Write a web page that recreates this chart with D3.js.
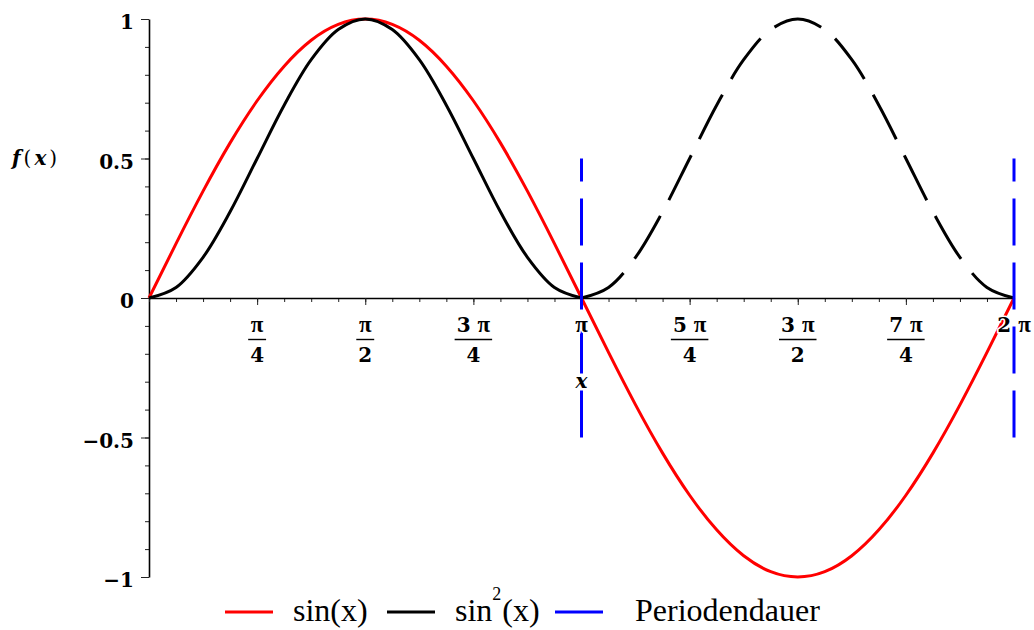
<!DOCTYPE html>
<html><head><meta charset="utf-8">
<script src="https://cdn.jsdelivr.net/npm/d3@7"></script>
<style>body{margin:0;background:#fff} svg{display:block}</style>
</head><body><svg id="c" width="1034" height="630"></svg>
<script>
// x positions in units of π
const xPi = [0,0.0625,0.125,0.1875,0.25,0.3125,0.375,0.4375,0.5,0.5625,0.625,0.6875,0.75,0.8125,0.875,0.9375,1,
             1.0625,1.125,1.1875,1.25,1.3125,1.375,1.4375,1.5,1.5625,1.625,1.6875,1.75,1.8125,1.875,1.9375,2];
const sinValues = [0,0.195,0.383,0.556,0.707,0.831,0.924,0.981,1,0.981,0.924,0.831,0.707,0.556,0.383,0.195,0,
                   -0.195,-0.383,-0.556,-0.707,-0.831,-0.924,-0.981,-1,-0.981,-0.924,-0.831,-0.707,-0.556,-0.383,-0.195,0];
const sinSqValues = [0,0.038,0.146,0.309,0.5,0.691,0.854,0.962,1,0.962,0.854,0.691,0.5,0.309,0.146,0.038,0,
                     0.038,0.146,0.309,0.5,0.691,0.854,0.962,1,0.962,0.854,0.691,0.5,0.309,0.146,0.038,0];
const xMajorTicks = [0.25,0.5,0.75,1,1.25,1.5,1.75,2];
const xTickNumerators = ["π","π","3 π","π","5 π","3 π","7 π","2 π"];
const xTickDenominators = ["4","2","4","","4","2","4",""];
const yMajorTicks = [-1,-0.5,0,0.5,1];
const yTickLabels = ["−1","−0.5","0","0.5","1"];
const periodLines = [1,2];
const periodRange = [-0.5,0.5];
const legendItems = ["sin(x)","sin²(x)","Periodendauer"];

const svg = d3.select("#c");
const x = d3.scaleLinear().domain([0,2]).range([149,1014]);
const y = d3.scaleLinear().domain([-1,1]).range([577,19]);
const tickFont = "'DejaVu Serif', serif";
const piFont = "'Liberation Serif','Times New Roman',serif";

// Y axis minor ticks
svg.append("g").attr("transform","translate(149,0)")
  .call(d3.axisLeft(y).tickValues(d3.range(-10,11).map(d=>d/10)).tickSize(4).tickSizeOuter(0).tickFormat(""))
  .call(g=>g.select(".domain").remove())
  .call(g=>g.selectAll(".tick line").attr("stroke","#222"));
// Y axis major
const gy = svg.append("g").attr("transform","translate(149,0)")
  .call(d3.axisLeft(y).tickValues(yMajorTicks).tickSize(8).tickSizeOuter(0).tickPadding(7)
        .tickFormat((d,i)=>yTickLabels[i]));
gy.select(".domain").attr("stroke","#000").attr("stroke-width",1.6);
gy.selectAll(".tick line").attr("stroke","#222");
gy.selectAll(".tick text").attr("font-family",tickFont).attr("font-weight","bold")
  .attr("font-size",20).attr("fill","#000").attr("dy","0.48em");

// X axis minor
svg.append("g").attr("transform",`translate(0,${y(0)})`)
  .call(d3.axisBottom(x).tickValues(d3.range(0,33).map(d=>d/16)).tickSize(4).tickSizeOuter(0).tickFormat(""))
  .call(g=>g.select(".domain").remove())
  .call(g=>g.selectAll(".tick line").attr("stroke","#222"));
const gx = svg.append("g").attr("transform",`translate(0,${y(0)})`)
  .call(d3.axisBottom(x).tickValues(xMajorTicks).tickSize(7).tickSizeOuter(0).tickFormat(""));
gx.select(".domain").attr("stroke","#000").attr("stroke-width",1.6);
gx.selectAll(".tick line").attr("stroke","#222");

// curves
const pts = xPi.map((v,i)=>({x:v, s:sinValues[i], q:sinSqValues[i]}));
svg.append("path").datum(pts)
  .attr("d", d3.line().x(d=>x(d.x)).y(d=>y(d.s)).curve(d3.curveNatural))
  .attr("fill","none").attr("stroke","#ff0000").attr("stroke-width",3);
const lineQ = d3.line().x(d=>x(d.x)).y(d=>y(d.q)).curve(d3.curveCatmullRom.alpha(0.5));
svg.append("path").datum(pts.filter(d=>d.x<=1))
  .attr("d", lineQ).attr("fill","none").attr("stroke","#000").attr("stroke-width",3);
const dq = svg.append("path").datum(pts.filter(d=>d.x>=1))
  .attr("d", lineQ).attr("fill","none").attr("stroke","#000").attr("stroke-width",3);
{
  const L = dq.node().getTotalLength(), dash = 50;
  const n = Math.round((L-dash)/67);
  const gap = (L-dash)/n - dash;
  dq.attr("stroke-dasharray", `${dash},${gap}`);
}

// period lines
svg.selectAll("line.period").data(periodLines).join("line").attr("class","period")
  .attr("x1",d=>x(d)).attr("x2",d=>x(d))
  .attr("y1",y(periodRange[0])).attr("y2",y(periodRange[1]))
  .attr("stroke","#0000ff").attr("stroke-width",3).attr("stroke-dasharray","47,17");

// x tick labels (fractions)
function fillLabel(textSel, s) {
  s.split(/(π)/).filter(p=>p.length).forEach(p=>{
    const ts = textSel.append("tspan").text(p);
    if (p === "π") ts.attr("font-family",piFont).attr("font-size",23);
  });
}
xMajorTicks.forEach((v,i)=>{
  const g = svg.append("g").attr("font-family",tickFont).attr("font-weight","bold")
    .attr("font-size",20).attr("fill","#000").attr("text-anchor","middle");
  const num = g.append("text").attr("x",x(v)).attr("y",332)
    .attr("stroke","#fff").attr("stroke-width",3).attr("paint-order","stroke");
  fillLabel(num, xTickNumerators[i]);
  if (xTickDenominators[i]) {
    const den = g.append("text").attr("x",x(v)).attr("y",362).text(xTickDenominators[i]);
    const w = Math.max(num.node().getComputedTextLength(), den.node().getComputedTextLength()) + 4;
    g.append("line").attr("x1",x(v)-w/2).attr("x2",x(v)+w/2).attr("y1",339.5).attr("y2",339.5)
      .attr("stroke","#000").attr("stroke-width",1.4);
  }
});

// axis titles
svg.append("text").attr("x",x(1)).attr("y",388).attr("text-anchor","middle")
  .attr("font-family",tickFont).attr("font-weight","bold").attr("font-style","italic").attr("font-size",20)
  .attr("stroke","#fff").attr("stroke-width",3).attr("paint-order","stroke").text("x");
const fx = svg.append("text").attr("x",12).attr("y",165).attr("font-family",tickFont).attr("font-size",20);
fx.append("tspan").attr("font-weight","bold").attr("font-style","italic").text("f");
fx.append("tspan").attr("dx",3).text("(");
fx.append("tspan").attr("dx",3).attr("font-weight","bold").attr("font-style","italic").text("x");
fx.append("tspan").attr("dx",3).text(")");

// legend
const legendColors = ["#ff0000","#000000","#0000ff"];
const legendLineX = [225,387,555];
const legendTextX = [293,455,635];
const legFont = "'Liberation Serif','Times New Roman',serif";
legendItems.forEach((t,i)=>{
  svg.append("line").attr("x1",legendLineX[i]).attr("x2",legendLineX[i]+48)
    .attr("y1",612).attr("y2",612).attr("stroke",legendColors[i]).attr("stroke-width",3);
  const tx = svg.append("text").attr("x",legendTextX[i]).attr("y",621)
    .attr("font-family",legFont).attr("font-size",32).attr("fill","#000");
  if (t.includes("²")) {
    const parts = t.split("²");
    tx.append("tspan").text(parts[0]);
    tx.append("tspan").attr("font-size",18).attr("dy",-21).text("2");
    tx.append("tspan").attr("dy",21).attr("dx",1).text(parts[1]);
  } else tx.text(t);
});
</script></body></html>
